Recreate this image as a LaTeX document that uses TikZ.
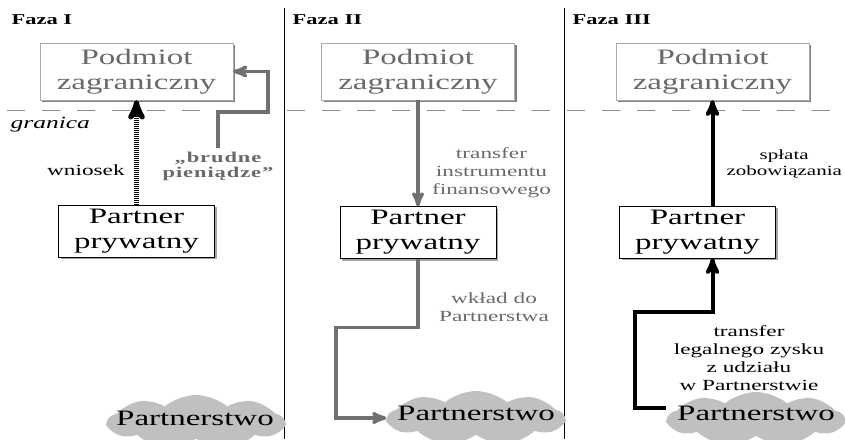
\documentclass[tikz,border=0pt]{standalone}
\usepackage{fontspec}
\setmainfont{Liberation Serif}[FakeStretch=1.5]
\usetikzlibrary{shapes,shadows,arrows,positioning}
\definecolor{tekstszary}{RGB}{105,105,105}
\definecolor{ramkaszara}{RGB}{170,170,170}
\definecolor{strzalkaszara}{RGB}{112,112,112}
\definecolor{chmuraszara}{RGB}{192,192,192}
\definecolor{granicaszara}{RGB}{140,140,140}
\newcommand{\duzy}[0]{\fontsize{22}{25}\selectfont}
\newcommand{\maly}[0]{\fontsize{15.5}{18}\selectfont}

\begin{document}
\begin{tikzpicture}[x=1pt,y=-1pt,>=stealth',semithick]
  \tikzstyle{podmiot}=[draw=ramkaszara,thin,fill=white,text=tekstszary,align=center,
    minimum width=193pt,minimum height=57pt,font=\duzy,
    drop shadow={shadow xshift=2pt,shadow yshift=-2pt,fill=gray,opacity=1}]
  \tikzstyle{partner}=[draw=black,thin,fill=white,align=center,
    minimum width=156pt,minimum height=52pt,font=\duzy,
    drop shadow={shadow xshift=2pt,shadow yshift=-2pt,fill=gray!70,opacity=1}]
  \tikzstyle{chmura}=[cloud,cloud puffs=9,cloud puff arc=80,cloud ignores aspect,
    fill=chmuraszara,draw=none,minimum width=176pt,minimum height=54pt,inner sep=0pt]
  \tikzstyle{faza}=[anchor=west,font=\fontsize{15}{15}\selectfont\bfseries]
  \tikzstyle{etykieta}=[align=center,font=\maly]
  \tikzstyle{szaraetykieta}=[etykieta,text=tekstszary]
  \tikzstyle{szarastrzalka}=[->,draw=strzalkaszara,line width=3.5pt]
  \tikzstyle{czarnastrzalka}=[->,draw=black,line width=4pt]
  \tikzstyle{kreskowana}=[->,draw=black,line width=5pt,dash pattern=on 1pt off 1pt]

  \path[use as bounding box,clip] (0,0) rectangle (845,439);

  % podzial na fazy i granica
  \draw[thin] (284,8) -- (284,439);
  \draw[thin] (564,8) -- (564,439);
  \draw[granicaszara,line width=0.8pt,dash pattern=on 18pt off 17pt,dash phase=-7pt]
    (0,110) -- (845,110);
  \node[anchor=west,font=\fontsize{17}{17}\selectfont\itshape] (G) at (7,125) {granica};

  \node[faza] (F1) at (8,20)   {Faza I};
  \node[faza] (F2) at (289,20) {Faza II};
  \node[faza] (F3) at (569,20) {Faza III};

  % chmury
  \node[chmura] (C1) at (196,422) {};
  \node[chmura] (C2) at (476,418) {};
  \node[chmura] (C3) at (756,419) {};
  \node[font=\duzy] (T1) at (195,418) {Partnerstwo};
  \node[font=\duzy] (T2) at (476,413) {Partnerstwo};
  \node[font=\duzy] (T3) at (756,413) {Partnerstwo};

  % faza I
  \node[podmiot] (Z1) at (136.5,71.5) {Podmiot\\zagraniczny};
  \node[partner] (P1) at (136.5,231)  {Partner\\prywatny};
  \node[align=center,text=tekstszary,
    font=\fontsize{15}{15}\selectfont\bfseries\addfontfeature{LetterSpace=6}]
    (B1) at (218,166) {„brudne\\pieniądze”};
  \draw[kreskowana] (P1.north) -- node[left=6pt,pos=0.33,etykieta] {wniosek} (Z1.south);
  \draw[szarastrzalka] (B1.north) -- ++(0,-36) -| ([xshift=35pt]Z1.east) -- (Z1.east);

  % faza II
  \node[podmiot] (Z2) at (418,71.5) {Podmiot\\zagraniczny};
  \node[partner] (P2) at (418,232.5) {Partner\\prywatny};
  \draw[szarastrzalka] (Z2.south) -- node[right=9pt,pos=0.68,szaraetykieta]
    {transfer\\instrumentu\\finansowego} (P2.north);
  \draw[szarastrzalka] (P2.south) -- node[right=16pt,pos=0.7,szaraetykieta]
    {wkład do\\Partnerstwa} ++(0,69) -| ([xshift=-50pt]C2.west) -- (C2.west);

  % faza III
  \node[podmiot] (Z3) at (712.5,71.5) {Podmiot\\zagraniczny};
  \node[partner] (P3) at (697.5,232)  {Partner\\prywatny};
  \coordinate (Z3a) at (635,312);
  \draw[czarnastrzalka] (P3.north -| Z3.south) -- node[right=12pt,pos=0.4,etykieta,
    inner sep=0pt,font=\fontsize{14}{16}\selectfont] {spłata\\zobowiązania} (Z3.south);
  \draw[czarnastrzalka] ([yshift=11pt]C3.west) -| (Z3a) -| ([xshift=15pt]P3.south);
  \node[etykieta] (L3) at (749,358) {transfer\\legalnego zysku\\z udziału\\w Partnerstwie};
\end{tikzpicture}
\end{document}
